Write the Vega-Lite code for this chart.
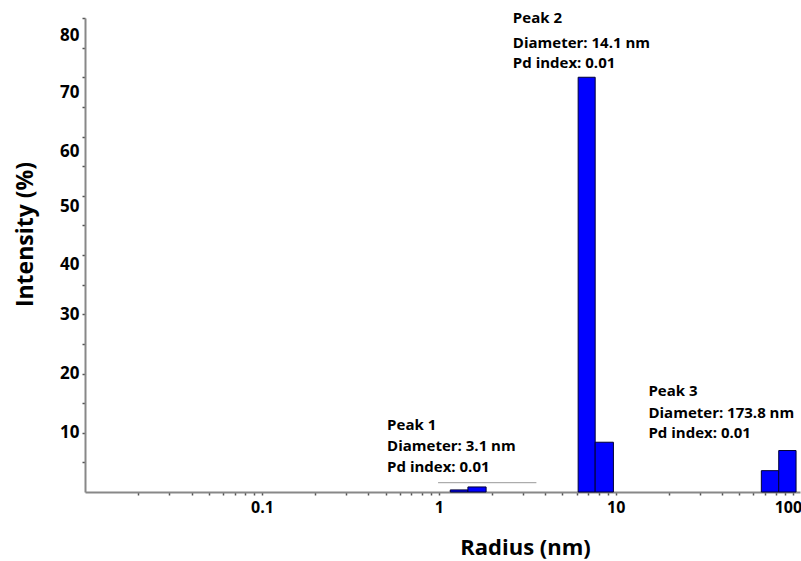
{
  "$schema": "https://vega.github.io/schema/vega-lite/v6.json",
  "width": 715,
  "height": 474,
  "autosize": {"type": "none"},
  "padding": {"left": 85, "top": 18, "right": 1, "bottom": 69},
  "background": "white",
  "config": {"view": {"stroke": null}, "font": "Open Sans"},
  "datasets": {
    "bars": [
      {"r0": 1.16, "r1": 1.46, "intensity": 0.35},
      {"r0": 1.46, "r1": 1.85, "intensity": 0.85},
      {"r0": 6.13, "r1": 7.65, "intensity": 70},
      {"r0": 7.65, "r1": 9.7, "intensity": 8.4},
      {"r0": 66.5, "r1": 83.4, "intensity": 3.6},
      {"r0": 83.4, "r1": 104.5, "intensity": 7.0}
    ],
    "line": [
      {"r0": 0.99, "r1": 3.56, "intensity": 1.57}
    ],
    "notes": [
      {"r": 0.51, "intensity": 11.3, "text": "Peak 1"},
      {"r": 0.51, "intensity": 7.8, "text": "Diameter: 3.1 nm"},
      {"r": 0.51, "intensity": 4.3, "text": "Pd index: 0.01"},
      {"r": 2.62, "intensity": 80.0, "text": "Peak 2"},
      {"r": 2.62, "intensity": 75.8, "text": "Diameter: 14.1 nm"},
      {"r": 2.62, "intensity": 72.4, "text": "Pd index: 0.01"},
      {"r": 15.3, "intensity": 17.0, "text": "Peak 3"},
      {"r": 15.3, "intensity": 13.3, "text": "Diameter: 173.8 nm"},
      {"r": 15.3, "intensity": 10.0, "text": "Pd index: 0.01"}
    ]
  },
  "layer": [
    {
      "data": {"name": "bars"},
      "mark": {"type": "rect", "color": "#0000ff", "stroke": "#000033", "strokeWidth": 1},
      "encoding": {
        "x": {
          "field": "r0", "type": "quantitative",
          "scale": {"type": "log", "domain": [0.01, 110], "nice": false},
          "axis": {
            "title": "Radius (nm)",
            "titleFont": "Open Sans", "titleFontSize": 22, "titleFontWeight": "bold", "titleColor": "#000",
            "titleX": 440, "titleY": 55, "titleBaseline": "middle", "titleAlign": "center",
            "values": [0.02,0.03,0.04,0.05,0.06,0.07,0.08,0.09,0.1,0.2,0.3,0.4,0.5,0.6,0.7,0.8,0.9,1,2,3,4,5,6,7,8,9,10,20,30,40,50,60,70,80,90,100],
            "tickCount": 50,
            "labelExpr": "datum.value == 0.1 ? '0.1' : datum.value == 1 ? '1' : datum.value == 10 ? '10' : datum.value == 100 ? '100' : ''",
            "labelFont": "Open Sans", "labelFontSize": 16, "labelFontWeight": "bold", "labelColor": "#000",
            "labelPadding": 4, "labelOverlap": false, "labelFlush": 15, "labelFlushOffset": 9,
            "tickSize": 3, "tickColor": "#555", "tickWidth": 1.5,
            "domainColor": "#888", "domainWidth": 2, "grid": false
          }
        },
        "x2": {"field": "r1"},
        "y": {
          "field": "intensity", "type": "quantitative",
          "scale": {"domain": [0, 80], "nice": false},
          "axis": {
            "title": "Intensity (%)",
            "titleFont": "Open Sans", "titleFontSize": 23, "titleFontWeight": "bold", "titleColor": "#000",
            "titleX": -60, "titleY": 216, "titleAngle": -90, "titleBaseline": "middle", "titleAlign": "center",
            "values": [5,10,15,20,25,30,35,40,45,50,55,60,65,70,75,80],
            "tickCount": 40,
            "labelExpr": "indexof([10,20,30,40,50,60,70,80], datum.value) >= 0 ? '' + datum.value : ''",
            "labelFont": "Open Sans", "labelFontSize": 17, "labelFontWeight": "bold", "labelColor": "#000",
            "labelPadding": 3, "labelOverlap": false, "labelFlush": false,
            "labelOffset": {"condition": [
              {"test": "datum.value >= 80", "value": 17},
              {"test": "datum.value >= 60", "value": 15},
              {"test": "datum.value >= 50", "value": 11},
              {"test": "datum.value >= 40", "value": 9}
            ], "value": 0},
            "tickSize": 3, "tickColor": "#555", "tickWidth": 1.5,
            "domainColor": "#888", "domainWidth": 2, "grid": false
          }
        },
        "y2": {"datum": 0}
      }
    },
    {
      "data": {"name": "line"},
      "mark": {"type": "rule", "color": "#999999", "strokeWidth": 1},
      "encoding": {
        "x": {"field": "r0", "type": "quantitative"},
        "x2": {"field": "r1"},
        "y": {"field": "intensity", "type": "quantitative"}
      }
    },
    {
      "data": {"name": "notes"},
      "mark": {"type": "text", "align": "left", "baseline": "middle", "font": "Open Sans", "fontSize": 15, "fontWeight": "bold", "color": "#000"},
      "encoding": {
        "x": {"field": "r", "type": "quantitative"},
        "y": {"field": "intensity", "type": "quantitative"},
        "text": {"field": "text"}
      }
    }
  ]
}
